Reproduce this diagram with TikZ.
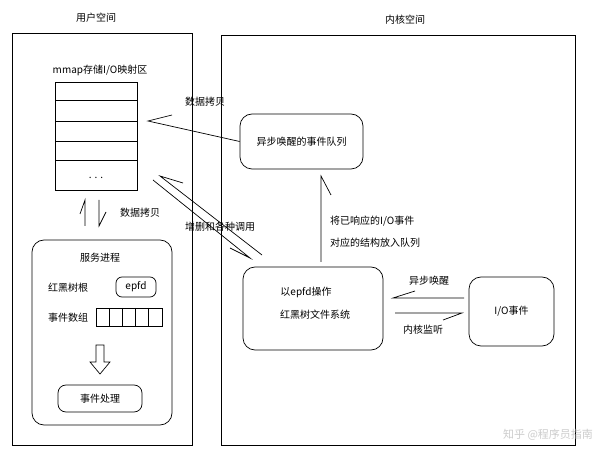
\documentclass[tikz,border=0pt]{standalone}
\usepackage{fontspec}
\setmainfont{Noto Sans CJK SC}
\begin{document}
\begin{tikzpicture}[x=1pt,y=-1pt,
  every node/.style={font=\fontsize{10}{12}\selectfont,inner sep=0pt},
  rbox/.style={draw,rounded corners=12pt,line width=0.7pt},
  ln/.style={line width=0.7pt}]
\useasboundingbox (0,0) rectangle (600,462);
\fill[white] (0,0) rectangle (600,462);
% outer boxes
\draw[ln] (12,33) rectangle (192,445);
\draw[ln] (221,35) rectangle (575,445);
\node (tu) at (96,18) {用户空间};
\node (tk) at (405,20) {内核空间};
% mmap table
\node (mm) at (100,70) {mmap存储I/O映射区};
\draw[ln] (55,82) rectangle (137,190);
\foreach \y in {100,121,141,160} \draw[ln] (55,\y) -- (137,\y);
\node (dots) at (96,178) {. . .};
% queue
\node[rbox,minimum width=123pt,minimum height=55pt] (q) at (301.5,141.5) {异步唤醒的事件队列};
\node[rbox,minimum width=140pt,minimum height=83pt] (ep) at (313,308.5) {};
\node (ep1) at (306,292) {以epfd操作};
\node (ep2) at (315,315) {红黑树文件系统};
\node[rbox,minimum width=85pt,minimum height=69pt] (io) at (511.5,311.5) {I/O事件};
% copy arrow
\coordinate (c1) at (148,121);
\draw[ln] (q.west) -- (c1) -- (172,115);
\node (l1) at (205,102) {数据拷贝};
% vertical arrow
\coordinate (v1) at (321,176);
\draw[ln] (321,262) -- (v1) -- (331,195);
\node[anchor=west] (l2) at (330,221) {将已响应的I/O事件};
\node[anchor=west] (l3) at (330,243) {对应的结构放入队列};
% io arrows
\draw[ln] (464,298) -- (393,298) -- (415,291);
\node (l4) at (429,281) {异步唤醒};
\draw[ln] (395,313) -- (462,313) -- (443,320);
\node (l5) at (423,330) {内核监听};
% diagonal
\draw[ln] (153,180) -- (250,258) -- (230,248);
\draw[ln] (262,255) -- (160,176) -- (183,183);
\node (l6) at (220,227) {增删和各种调用};
% left vertical
\draw[ln] (85,226) -- (85,200) -- (80,214);
\draw[ln] (99,200) -- (99,226) -- (106,212);
\node (l7) at (140,213) {数据拷贝};
% service
\node[rbox,minimum width=140pt,minimum height=185pt] (svc) at (102,332.5) {};
\node (s1) at (100,258) {服务进程};
\node (s2) at (68,288) {红黑树根};
\node[draw,ln,rounded corners=6pt,minimum width=40pt,minimum height=20pt] (epfd) at (136,287) {epfd};
\node (s3) at (68,318) {事件数组};
\draw[ln] (96,308) rectangle (162,326);
\foreach \x in {109.2,122.4,135.6,148.8} \draw[ln] (\x,308) -- (\x,326);
\draw[ln] (96,345) -- (104,345) -- (104,362) -- (110,362) -- (100,374) -- (90,362) -- (96,362) -- cycle;
\node[rbox,rounded corners=8pt,minimum width=84pt,minimum height=27pt] (ev) at (100,398.5) {事件处理};
\node[text=gray!40,font=\fontsize{11}{13}\selectfont] (wm) at (548,435) {知乎 @程序员指南};
\end{tikzpicture}
\end{document}
